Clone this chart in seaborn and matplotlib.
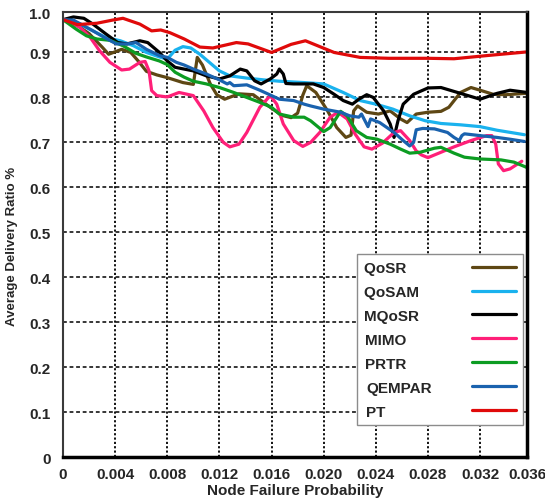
import numpy as np
import pandas as pd
import matplotlib
matplotlib.use("Agg")
import matplotlib.pyplot as plt
import seaborn as sns

# Datos (probabilidad de fallo de nodo vs ratio de entrega)
QOSR_X = [0, 0.001, 0.002, 0.003, 0.0035, 0.0045, 0.0052, 0.0058, 0.0064, 0.0072, 0.008,
          0.0092, 0.0100, 0.0103, 0.0107, 0.0113, 0.0118, 0.0124, 0.0135, 0.0146, 0.0159,
          0.0168, 0.0175, 0.018, 0.0184, 0.0187, 0.0194, 0.0203, 0.021, 0.0217, 0.0221,
          0.0223, 0.0226, 0.0233, 0.0242, 0.0251, 0.0259, 0.0264, 0.0271, 0.028, 0.029,
          0.0296, 0.0305, 0.0313, 0.032, 0.033, 0.034, 0.0355]
QOSR_Y = [0.973, 0.962, 0.942, 0.912, 0.896, 0.907, 0.900, 0.880, 0.858, 0.850, 0.844,
          0.833, 0.829, 0.889, 0.872, 0.830, 0.806, 0.796, 0.808, 0.806, 0.778,
          0.760, 0.755, 0.765, 0.805, 0.826, 0.811, 0.770, 0.733, 0.711, 0.716,
          0.770, 0.781, 0.767, 0.763, 0.770, 0.752, 0.744, 0.763, 0.767, 0.769,
          0.778, 0.811, 0.822, 0.816, 0.807, 0.806, 0.809]

QOSAM_X = [0, 0.0013, 0.0023, 0.0033, 0.0044, 0.0054, 0.0064, 0.0074, 0.008, 0.0086,
           0.0092, 0.0098, 0.0105, 0.012, 0.0128, 0.0141, 0.0154, 0.0166, 0.0185, 0.020,
           0.0215, 0.0228, 0.024, 0.0253, 0.0266, 0.0278, 0.029, 0.0305, 0.032, 0.0333,
           0.0354]
QOSAM_Y = [0.973, 0.964, 0.948, 0.933, 0.926, 0.915, 0.900, 0.890, 0.885, 0.905,
           0.913, 0.910, 0.896, 0.859, 0.848, 0.843, 0.839, 0.836, 0.833, 0.830,
           0.811, 0.793, 0.785, 0.774, 0.759, 0.748, 0.742, 0.739, 0.735, 0.727,
           0.717]

MQOSR_X = [0, 0.0008, 0.0016, 0.0023, 0.0033, 0.0042, 0.0049, 0.0059, 0.0065, 0.0074,
           0.008, 0.0086, 0.0093, 0.010, 0.011, 0.012, 0.0128, 0.0136, 0.0141, 0.0147,
           0.0152, 0.0159, 0.0164, 0.0166, 0.0169, 0.0171, 0.0177, 0.0185, 0.0192, 0.020,
           0.0208, 0.0215, 0.0222, 0.0227, 0.0233, 0.0238, 0.0246, 0.0251, 0.0254, 0.0257,
           0.0261, 0.0269, 0.028, 0.029, 0.0305, 0.032, 0.0333, 0.0343, 0.0356]
MQOSR_Y = [0.973, 0.979, 0.976, 0.963, 0.941, 0.922, 0.919, 0.926, 0.922, 0.900,
           0.881, 0.867, 0.863, 0.859, 0.848, 0.841, 0.848, 0.863, 0.859, 0.837,
           0.830, 0.841, 0.852, 0.863, 0.852, 0.831, 0.830, 0.830, 0.830, 0.822,
           0.807, 0.793, 0.785, 0.796, 0.806, 0.800, 0.770, 0.741, 0.711, 0.748,
           0.785, 0.807, 0.821, 0.822, 0.809, 0.796, 0.809, 0.816, 0.811]

MIMO_X = [0, 0.0013, 0.0021, 0.0028, 0.0036, 0.0045, 0.0051, 0.0059, 0.0063, 0.0066,
          0.0068, 0.0072, 0.008, 0.0089, 0.010, 0.0108, 0.0115, 0.0123, 0.0128, 0.0135,
          0.0141, 0.0151, 0.0159, 0.0164, 0.0169, 0.0177, 0.0184, 0.019, 0.0197, 0.0205,
          0.0211, 0.0218, 0.0224, 0.0231, 0.0237, 0.0245, 0.0254, 0.0259, 0.0266, 0.0271,
          0.0275, 0.028, 0.029, 0.030, 0.0313, 0.0325, 0.0329, 0.0332, 0.0334, 0.0338,
          0.0343, 0.0352]
MIMO_Y = [0.973, 0.956, 0.933, 0.904, 0.878, 0.861, 0.863, 0.878, 0.880, 0.859,
          0.815, 0.804, 0.801, 0.811, 0.804, 0.770, 0.733, 0.700, 0.690, 0.696,
          0.722, 0.778, 0.804, 0.785, 0.741, 0.704, 0.691, 0.700, 0.722, 0.756,
          0.767, 0.752, 0.719, 0.690, 0.685, 0.698, 0.722, 0.726, 0.704, 0.681,
          0.672, 0.666, 0.678, 0.690, 0.704, 0.715, 0.715, 0.696, 0.652, 0.637,
          0.641, 0.658]

PRTR_X = [0, 0.001, 0.0018, 0.0026, 0.0036, 0.0046, 0.0056, 0.0064, 0.0074, 0.008,
          0.0086, 0.0093, 0.010, 0.011, 0.012, 0.0131, 0.0141, 0.0151, 0.016, 0.0166,
          0.0177, 0.0185, 0.019, 0.020, 0.0205, 0.0213, 0.0218, 0.0225, 0.0233, 0.0241,
          0.0251, 0.0259, 0.0266, 0.0274, 0.0285, 0.029, 0.030, 0.0308, 0.032, 0.0336,
          0.0346, 0.0356]
PRTR_Y = [0.973, 0.952, 0.937, 0.930, 0.927, 0.915, 0.898, 0.890, 0.881, 0.873,
          0.856, 0.845, 0.836, 0.830, 0.822, 0.811, 0.800, 0.789, 0.778, 0.763,
          0.756, 0.756, 0.748, 0.724, 0.733, 0.769, 0.759, 0.726, 0.711, 0.707,
          0.696, 0.685, 0.676, 0.678, 0.687, 0.689, 0.676, 0.667, 0.663, 0.661,
          0.656, 0.644]

QEMPAR_X = [0, 0.0008, 0.0016, 0.0023, 0.0032, 0.0041, 0.0049, 0.0056, 0.0064, 0.0074,
            0.008, 0.0087, 0.0093, 0.010, 0.011, 0.012, 0.0126, 0.0128, 0.0131, 0.0141,
            0.0151, 0.016, 0.0166, 0.0177, 0.0185, 0.019, 0.020, 0.0213, 0.022, 0.0227,
            0.0229, 0.0234, 0.0236, 0.0243, 0.0254, 0.0261, 0.0266, 0.0269, 0.0271, 0.0276,
            0.0285, 0.0295, 0.030, 0.0304, 0.0306, 0.0308, 0.032, 0.0333, 0.0343, 0.0354]
QEMPAR_Y = [0.973, 0.972, 0.959, 0.948, 0.933, 0.919, 0.919, 0.922, 0.907, 0.893,
            0.889, 0.878, 0.872, 0.863, 0.852, 0.839, 0.830, 0.833, 0.826, 0.828,
            0.816, 0.804, 0.796, 0.793, 0.785, 0.781, 0.774, 0.767, 0.759, 0.756,
            0.763, 0.735, 0.752, 0.744, 0.722, 0.704, 0.692, 0.700, 0.728, 0.731,
            0.730, 0.722, 0.711, 0.704, 0.715, 0.719, 0.715, 0.711, 0.707, 0.702]

PT_X = [0, 0.0011, 0.0026, 0.0038, 0.0046, 0.0059, 0.0068, 0.0075, 0.0082, 0.0093,
        0.0105, 0.0115, 0.0133, 0.0142, 0.016, 0.0175, 0.0186, 0.0208, 0.0228, 0.025,
        0.028, 0.030, 0.0325, 0.0355]
PT_Y = [0.973, 0.962, 0.965, 0.972, 0.976, 0.963, 0.948, 0.950, 0.944, 0.930,
        0.912, 0.910, 0.922, 0.919, 0.900, 0.918, 0.926, 0.900, 0.889, 0.887,
        0.887, 0.886, 0.893, 0.901]

SERIES = ['QoSR', 'QoSAM', 'MQoSR', 'MIMO', 'PRTR', 'QEMPAR', 'PT']
COLORES = ['#5E4714', '#1AB2EE', '#000000', '#FF1F78', '#0C9C22', '#1A62AE', '#E00A0A']
DATOS = [(QOSR_X, QOSR_Y), (QOSAM_X, QOSAM_Y), (MQOSR_X, MQOSR_Y), (MIMO_X, MIMO_Y),
         (PRTR_X, PRTR_Y), (QEMPAR_X, QEMPAR_Y), (PT_X, PT_Y)]
# espacios al final para que los textos de la leyenda queden alineados a la izquierda
PAD = [6, 3, 3, 6, 6, 0, 11]

X_TICKS = [0, 0.004, 0.008, 0.012, 0.016, 0.020, 0.024, 0.028, 0.032, 0.0356]
X_LABELS = ['0', '0.004', '0.008', '0.012', '0.016', '0.020', '0.024', '0.028', '0.032', '0.036']
Y_TICKS = [0, 0.1, 0.2, 0.3, 0.4, 0.5, 0.6, 0.7, 0.8, 0.9, 0.99]
Y_LABELS = ['0', '0.1', '0.2', '0.3', '0.4', '0.5', '0.6', '0.7', '0.8', '0.9', '1.0']

sns.set_style('white')
plt.rcParams['font.family'] = ['Liberation Sans', 'DejaVu Sans']
plt.rcParams['font.weight'] = 'bold'

fig = plt.figure(figsize=(5.45, 5.02), dpi=100)
ax = fig.add_axes([0.1156, 0.0876, 0.8514, 0.8865])

for nombre, color, (xs, ys), pad in zip(SERIES, COLORES, DATOS, PAD):
    df = pd.DataFrame({'x': xs, 'y': ys})
    sns.lineplot(data=df, x='x', y='y', ax=ax, color=color, lw=2.3,
                 label=nombre + ' ' * pad, sort=False)

ax.set_xlim(0, 0.0356)
ax.set_ylim(0, 0.99)
ax.set_xticks(X_TICKS)
ax.set_xticklabels(X_LABELS)
ax.set_yticks(Y_TICKS)
ax.set_yticklabels(Y_LABELS)
ax.tick_params(axis='both', length=0, labelsize=11)
ax.tick_params(axis='y', pad=9)
ax.tick_params(axis='x', pad=7)
for t in ax.get_xticklabels() + ax.get_yticklabels():
    t.set_fontweight('bold')

ax.set_axisbelow(True)
ax.xaxis.grid(True, color='black', linestyle=(0, (1.2, 1.2)), lw=1.3)
ax.yaxis.grid(True, color='black', linestyle=(0, (2.5, 1.8)), lw=1.1)

ax.set_xlabel('Node Failure Probability', fontsize=11, fontweight='bold')
ax.set_ylabel('Average Delivery Ratio %', fontsize=9.5, fontweight='bold')
ax.xaxis.set_label_coords(0.5, -0.058)
ax.yaxis.set_label_coords(-0.097, 0.476)

for lado in ['left', 'top']:
    ax.spines[lado].set_color('#3a3a3a')
    ax.spines[lado].set_linewidth(1.5)
for lado in ['right', 'bottom']:
    ax.spines[lado].set_color('black')
    ax.spines[lado].set_linewidth(2.5)
    ax.spines[lado].set_visible(True)

leg = ax.legend(loc='upper left', bbox_to_anchor=(0.634, 0.456), markerfirst=False,
                fancybox=False, framealpha=1, borderpad=0.45, labelspacing=0.65,
                handlelength=2.9, handletextpad=2.6, borderaxespad=0,
                prop={'size': 11, 'weight': 'bold'})
leg.get_frame().set_edgecolor('#8c8c8c')
leg.get_frame().set_linewidth(1.0)
for linea in leg.get_lines():
    linea.set_linewidth(2.3)

plt.savefig('out.png', dpi=100)
plt.close()
